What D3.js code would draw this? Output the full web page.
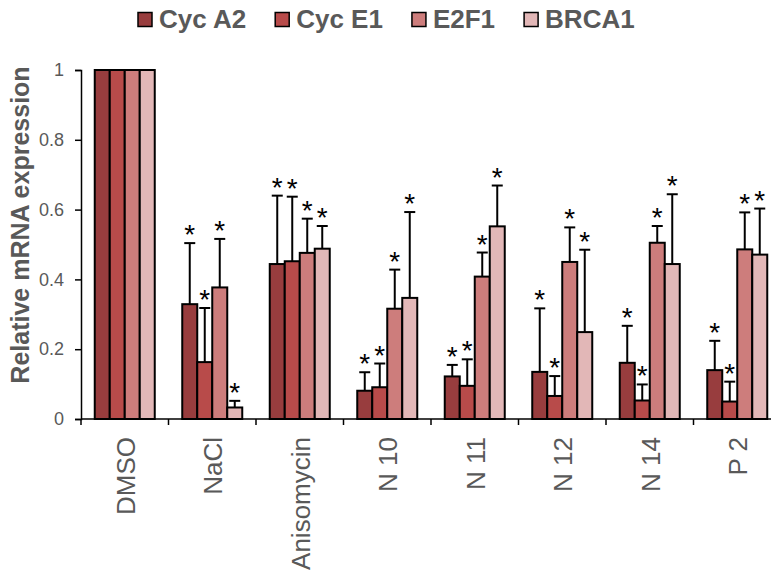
<!DOCTYPE html>
<html>
<head>
<meta charset="utf-8">
<script src="https://cdn.jsdelivr.net/npm/d3@7"></script>
<style>
  body { margin: 0; background: #fff; }
  text { font-family: "Liberation Sans", Arial, sans-serif; }
</style>
</head>
<body>
<div id="chart"></div>
<script>
// data
const categories = ["DMSO", "NaCl", "Anisomycin", "N 10", "N 11", "N 12", "N 14", "P 2"]
const series = ["Cyc A2", "Cyc E1", "E2F1", "BRCA1"]
const colors = ["#983d3e", "#b84b4a", "#cd7d7c", "#e2b7b7"]

const cycA2 = [1, 0.329, 0.444, 0.081, 0.122, 0.135, 0.161, 0.140]
const cycA2Err = [0, 0.175, 0.196, 0.053, 0.033, 0.182, 0.106, 0.084]
const cycE1 = [1, 0.163, 0.452, 0.091, 0.095, 0.066, 0.053, 0.050]
const cycE1Err = [0, 0.155, 0.185, 0.068, 0.076, 0.057, 0.046, 0.057]
const e2f1 = [1, 0.377, 0.476, 0.316, 0.408, 0.450, 0.505, 0.486]
const e2f1Err = [0, 0.139, 0.098, 0.112, 0.069, 0.099, 0.048, 0.106]
const brca1 = [1, 0.033, 0.488, 0.347, 0.552, 0.249, 0.444, 0.471]
const brca1Err = [0, 0.019, 0.065, 0.246, 0.117, 0.236, 0.200, 0.132]
// asterisk above every treated bar, not DMSO
const significant = [false, true, true, true, true, true, true, true]

const yTicks = [0, 0.2, 0.4, 0.6, 0.8, 1]

const values = [cycA2, cycE1, e2f1, brca1]
const errors = [cycA2Err, cycE1Err, e2f1Err, brca1Err]

const rows = []
categories.forEach((c, i) => {
  series.forEach((s, j) => {
    rows.push({ cat: c, series: s, value: values[j][i], err: errors[j][i], sig: significant[i], color: colors[j] })
  })
})

const W = 771, H = 577
const svg = d3.select("#chart").append("svg")
  .attr("width", W)
  .attr("height", H)

const x = d3.scaleBand()
  .domain(categories)
  .range([81, 781])

const xInner = d3.scaleBand()
  .domain(series)
  .range([x.bandwidth() / 2 - 30, x.bandwidth() / 2 + 30])

const y = d3.scaleLinear()
  .domain([0, 1])
  .range([419, 70])

const grey = "#595959"

// bars
svg.selectAll("rect.bar")
  .data(rows)
  .join("rect")
  .attr("class", "bar")
  .attr("x", d => x(d.cat) + xInner(d.series))
  .attr("width", xInner.bandwidth())
  .attr("y", d => y(d.value))
  .attr("height", d => y(0) - y(d.value))
  .attr("fill", d => d.color)
  .attr("stroke", "#000")
  .attr("stroke-width", 2)

// error bars
const eb = rows.filter(d => d.err > 0)
const cx = d => x(d.cat) + xInner(d.series) + xInner.bandwidth() / 2
svg.selectAll("line.err")
  .data(eb)
  .join("line")
  .attr("class", "err")
  .attr("x1", cx).attr("x2", cx)
  .attr("y1", d => y(d.value)).attr("y2", d => y(d.value + d.err))
  .attr("stroke", "#000").attr("stroke-width", 2)
svg.selectAll("line.cap")
  .data(eb)
  .join("line")
  .attr("class", "cap")
  .attr("x1", d => cx(d) - 5.5).attr("x2", d => cx(d) + 5.5)
  .attr("y1", d => y(d.value + d.err)).attr("y2", d => y(d.value + d.err))
  .attr("stroke", "#000").attr("stroke-width", 2)

// stars
svg.selectAll("text.star")
  .data(rows.filter(d => d.sig))
  .join("text")
  .attr("class", "star")
  .attr("x", cx)
  .attr("y", d => y(d.value + d.err) + 1)
  .attr("text-anchor", "middle")
  .attr("font-size", 28)
  .attr("fill", "#000")
  .text("*")

// y axis
const yAxis = svg.append("g")
  .attr("transform", "translate(81,0)")
  .call(d3.axisLeft(y).tickValues(yTicks).tickSize(6).tickPadding(11).tickFormat(d3.format("")))
yAxis.select(".domain").attr("stroke", "#000").attr("stroke-width", 1.5)
yAxis.selectAll(".tick line").attr("stroke", "#000").attr("stroke-width", 1.5)
yAxis.selectAll(".tick text")
  .attr("fill", grey)
  .attr("font-size", 18)
  .attr("font-family", "Liberation Sans, Arial, sans-serif")

// x axis
const xAxis = svg.append("g")
  .attr("transform", "translate(0,419)")
xAxis.append("line")
  .attr("x1", 81).attr("x2", 781)
  .attr("stroke", "#000").attr("stroke-width", 1.5)
xAxis.selectAll("line.xt")
  .data(categories.concat(["end"]))
  .join("line")
  .attr("class", "xt")
  .attr("x1", (d, i) => 81 + i * x.step())
  .attr("x2", (d, i) => 81 + i * x.step())
  .attr("y1", 0).attr("y2", 6)
  .attr("stroke", "#000").attr("stroke-width", 1.5)
xAxis.selectAll("text")
  .data(categories)
  .join("text")
  .attr("transform", d => `translate(${x(d) + x.bandwidth() / 2 + 10},18) rotate(-90)`)
  .attr("text-anchor", "end")
  .attr("font-size", 26)
  .attr("fill", grey)
  .text(d => d)

// y title
svg.append("text")
  .attr("transform", "translate(29,225) rotate(-90)")
  .attr("text-anchor", "middle")
  .attr("font-size", 25)
  .attr("font-weight", "bold")
  .attr("fill", grey)
  .text("Relative mRNA expression")

// legend
const legend = svg.append("g")
let lx = 138
series.forEach((s, i) => {
  legend.append("rect")
    .attr("x", lx).attr("y", 12.5)
    .attr("width", 14).attr("height", 14)
    .attr("fill", colors[i])
    .attr("stroke", "#000").attr("stroke-width", 1.5)
  const t = legend.append("text")
    .attr("x", lx + 21).attr("y", 28)
    .attr("font-size", 26)
    .attr("font-weight", "bold")
    .attr("fill", grey)
    .text(s)
  lx += 21 + t.node().getComputedTextLength() + 29
})
</script>
</body>
</html>
